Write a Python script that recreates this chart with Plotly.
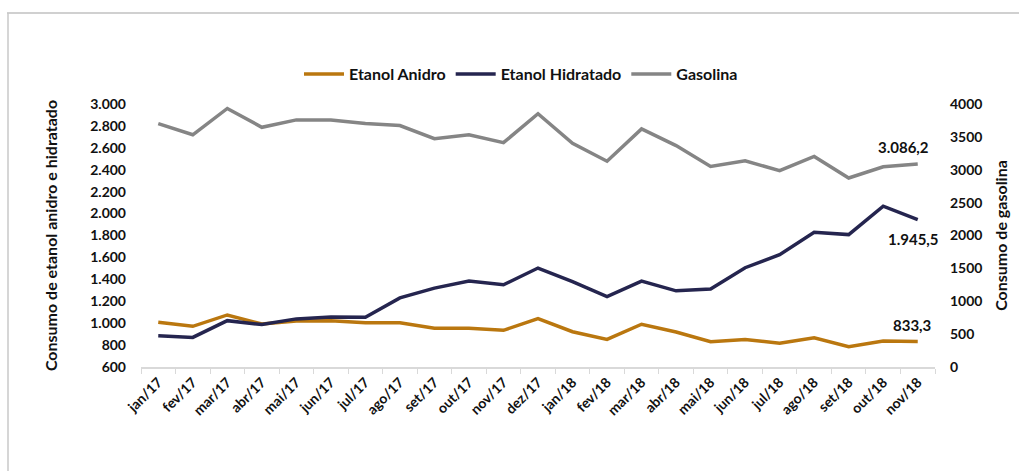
import plotly.graph_objects as go

months = ["jan/17", "fev/17", "mar/17", "abr/17", "mai/17", "jun/17", "jul/17", "ago/17",
          "set/17", "out/17", "nov/17", "dez/17", "jan/18", "fev/18", "mar/18", "abr/18",
          "mai/18", "jun/18", "jul/18", "ago/18", "set/18", "out/18", "nov/18"]

etanol_anidro = [1008, 971, 1075, 992, 1020, 1023, 1004, 1004, 953, 953, 935, 1041,
                 922, 852, 990, 919, 830, 852, 816, 867, 785, 837, 833.3]

etanol_hidratado = [885, 870, 1023, 987, 1039, 1057, 1054, 1231, 1320, 1384, 1350, 1503,
                    1378, 1243, 1384, 1295, 1311, 1506, 1625, 1829, 1808, 2067, 1945.5]

gasolina = [3702, 3532, 3932, 3646, 3758, 3758, 3702, 3672, 3472, 3532, 3412, 3852,
            3402, 3130, 3622, 3367, 3051, 3135, 2985, 3202, 2875, 3046, 3086.2]

C_ANI = "#BA770F"
C_HID = "#25254F"
C_GAS = "#858585"
FONT = "Lato"
TXT = "#111111"


def br(v):
    s = f"{v:,.1f}"
    return s.replace(",", "X").replace(".", ",").replace("X", ".")


fig = go.Figure()
fig.add_trace(go.Scatter(x=months, y=etanol_anidro, name="Etanol Anidro", mode="lines",
                         line=dict(color=C_ANI, width=3.5)))
fig.add_trace(go.Scatter(x=months, y=etanol_hidratado, name="Etanol Hidratado", mode="lines",
                         line=dict(color=C_HID, width=3.5)))
fig.add_trace(go.Scatter(x=months, y=gasolina, name="Gasolina", mode="lines",
                         line=dict(color=C_GAS, width=3.5), yaxis="y2"))

L, R, T, B = 141, 84, 104, 104
W, H = 1019, 471
pw, ph = W - L - R, H - T - B


def px2x(px):
    return (px - L) / pw


def py2y(py):
    return (H - B - py) / ph


shapes = [
    dict(type="line", xref="paper", yref="paper", x0=px2x(7), x1=px2x(1020),
         y0=py2y(13), y1=py2y(13), line=dict(color="#c0c0c0", width=1.5)),
    dict(type="line", xref="paper", yref="paper", x0=px2x(8), x1=px2x(8),
         y0=py2y(13), y1=py2y(472), line=dict(color="#c8c8c8", width=1.5)),
]

last = len(months) - 1
afont = dict(size=15, color=TXT, family=FONT)
annotations = [
    dict(x=months[last], y=gasolina[last], yref="y2", text=f"<b>{br(gasolina[last])}</b>",
         showarrow=False, xshift=-14, yshift=17, font=afont),
    dict(x=months[last], y=etanol_hidratado[last], text=f"<b>{br(etanol_hidratado[last])}</b>",
         showarrow=False, xshift=-4, yshift=-19, font=afont),
    dict(x=months[last], y=etanol_anidro[last], text=f"<b>{br(etanol_anidro[last])}</b>",
         showarrow=False, xshift=-6, yshift=16, font=afont),
]

tick_font = dict(size=14, family=FONT, weight="bold", color=TXT)
title_font = dict(size=16, family=FONT, weight="bold", color=TXT)

fig.update_layout(
    width=W, height=H,
    margin=dict(l=L, r=R, t=T, b=B),
    paper_bgcolor="white", plot_bgcolor="white",
    separators=",.",
    font=dict(family=FONT, size=13, color=TXT),
    showlegend=True,
    legend=dict(orientation="h", x=px2x(521), y=py2y(74), xanchor="center", yanchor="middle",
                font=dict(size=16, family=FONT, color=TXT, weight="bold"),
                itemwidth=40, tracegroupgap=0, bgcolor="rgba(0,0,0,0)"),
    xaxis=dict(type="category", range=[-0.5, last + 0.5], showgrid=False,
               showline=True, linecolor="#d9d9d9", linewidth=1.5,
               ticks="outside", tickson="boundaries", ticklen=5, tickcolor="#d9d9d9",
               tickangle=-45, tickfont=tick_font, zeroline=False),
    yaxis=dict(range=[600, 3000], dtick=200, tick0=600, showgrid=False, zeroline=False,
               separatethousands=True, showline=False, ticklabelstandoff=14,
               tickfont=tick_font,
               title=dict(text="Consumo de etanol anidro e hidratado", standoff=28,
                          font=title_font)),
    yaxis2=dict(range=[0, 4000], dtick=500, overlaying="y", side="right", showgrid=False,
                zeroline=False, showline=False, ticklabelstandoff=14,
                tickfont=tick_font,
                title=dict(text="Consumo de gasolina", standoff=14, font=title_font)),
    shapes=shapes,
    annotations=annotations,
)

fig.write_html("out.html")
